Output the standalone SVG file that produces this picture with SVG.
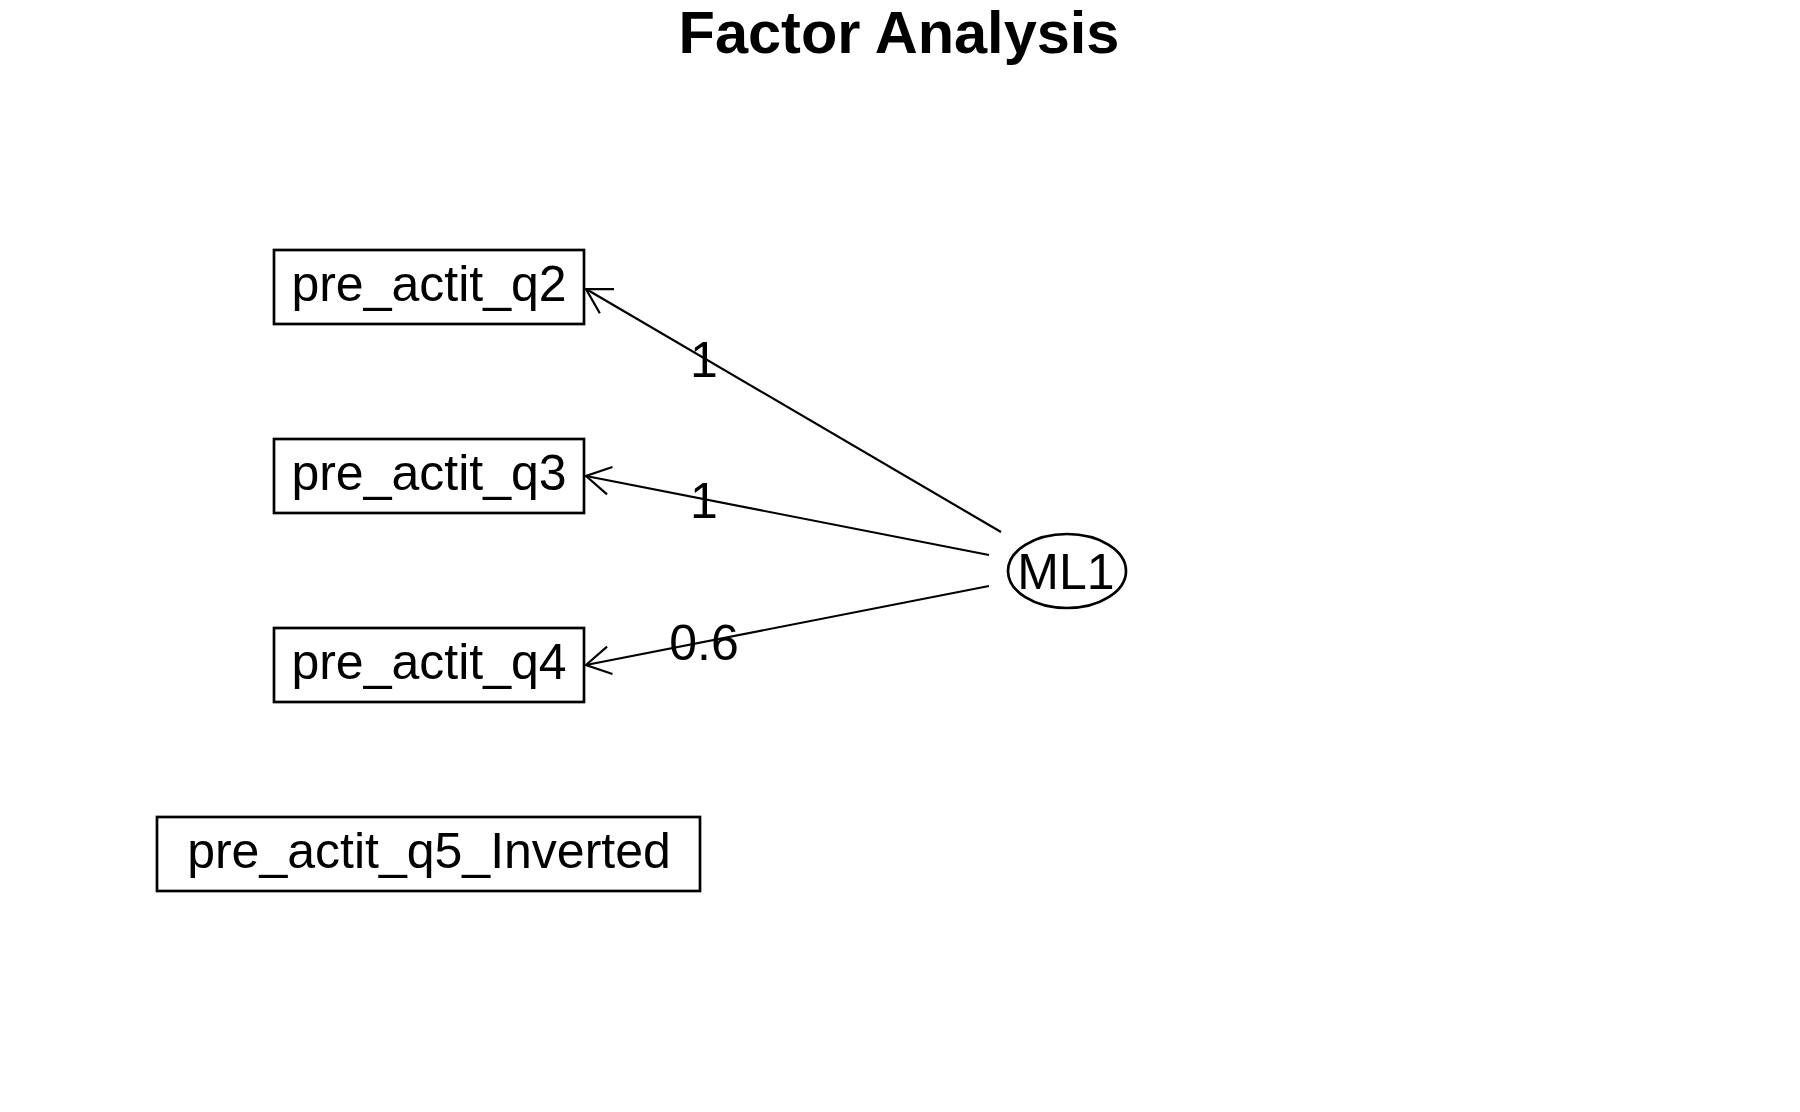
<svg xmlns="http://www.w3.org/2000/svg" width="1800" height="1112" viewBox="0 0 1800 1112">
  <style>
    text { font-family: "Liberation Sans", Arial, sans-serif; fill: #000; }
    .title { font-size: 59.5px; font-weight: bold; text-anchor: middle; }
    .lbl { font-size: 50px; text-anchor: middle; }
    .box { fill: #fff; stroke: #000; stroke-width: 2.7; }
    .edge { fill: none; stroke: #000; stroke-width: 2.2; marker-end: url(#arr); }
  </style>
  <defs>
    <marker id="arr" markerUnits="userSpaceOnUse" viewBox="-30 -20 35 40" markerWidth="35" markerHeight="40" refX="0" refY="0" orient="auto" overflow="visible">
      <path d="M-24.2,-14 L0,0 L-24.2,14" fill="none" stroke="#000" stroke-width="2.2"/>
    </marker>
  </defs>
  <rect x="0" y="0" width="1800" height="1112" fill="#fff"/>
  <text class="title" x="899" y="53">Factor Analysis</text>

  <g id="connectors">
    <line class="edge" x1="1001" y1="532" x2="586" y2="289"/>
    <line class="edge" x1="989" y1="555" x2="586" y2="476"/>
    <line class="edge" x1="989" y1="586" x2="586" y2="665"/>
    <text class="lbl" x="704" y="377">1</text>
    <text class="lbl" x="704" y="518">1</text>
    <text class="lbl" x="704" y="660">0.6</text>
  </g>

  <g id="q2">
    <rect class="box" x="274" y="250" width="310" height="74"/>
    <text class="lbl" x="429" y="301">pre_actit_q2</text>
  </g>
  <g id="q3">
    <rect class="box" x="274" y="439" width="310" height="74"/>
    <text class="lbl" x="429" y="490">pre_actit_q3</text>
  </g>
  <g id="q4">
    <rect class="box" x="274" y="628" width="310" height="74"/>
    <text class="lbl" x="429" y="679">pre_actit_q4</text>
  </g>
  <g id="q5">
    <rect class="box" x="157" y="817" width="543" height="74"/>
    <text class="lbl" x="429" y="868">pre_actit_q5_Inverted</text>
  </g>
  <g id="ML1">
    <ellipse cx="1067" cy="571" rx="59" ry="37" fill="#fff" stroke="#000" stroke-width="2.7"/>
    <text class="lbl" x="1066" y="589">ML1</text>
  </g>
</svg>
